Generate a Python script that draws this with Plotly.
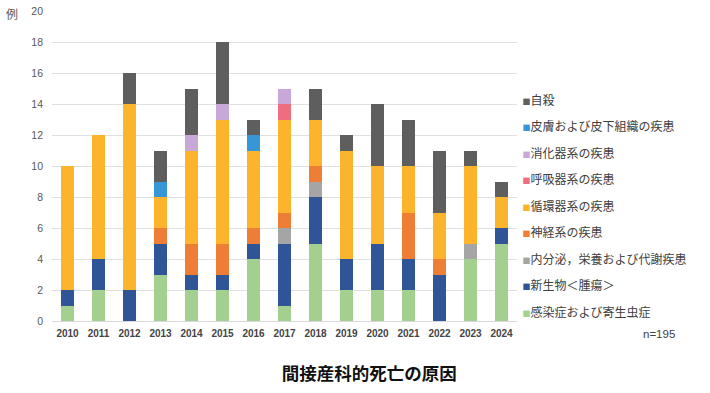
import plotly.graph_objects as go

years = [str(y) for y in range(2010, 2025)]

# Bottom-to-top stacking order
infection   = [1, 2, 0, 3, 2, 2, 4, 1, 5, 2, 2, 2, 0, 4, 5]   # 感染症および寄生虫症
neoplasm    = [1, 2, 2, 2, 1, 1, 1, 4, 3, 2, 3, 2, 3, 0, 1]   # 新生物<腫瘍>
endocrine   = [0, 0, 0, 0, 0, 0, 0, 1, 1, 0, 0, 0, 0, 1, 0]   # 内分泌，栄養および代謝疾患
nervous     = [0, 0, 0, 1, 2, 2, 1, 1, 1, 0, 0, 3, 1, 0, 0]   # 神経系の疾患
circulatory = [8, 8, 12, 2, 6, 8, 5, 6, 3, 7, 5, 3, 3, 5, 2]  # 循環器系の疾患
respiratory = [0, 0, 0, 0, 0, 0, 0, 1, 0, 0, 0, 0, 0, 0, 0]   # 呼吸器系の疾患
digestive   = [0, 0, 0, 0, 1, 1, 0, 1, 0, 0, 0, 0, 0, 0, 0]   # 消化器系の疾患
skin        = [0, 0, 0, 1, 0, 0, 1, 0, 0, 0, 0, 0, 0, 0, 0]   # 皮膚および皮下組織の疾患
suicide     = [0, 0, 2, 2, 3, 4, 1, 0, 2, 1, 4, 3, 4, 1, 1]   # 自殺

series = [
    ("感染症および寄生虫症", infection, "#A3D08F"),
    ("新生物＜腫瘍＞", neoplasm, "#2F5597"),
    ("内分泌，栄養および代謝疾患", endocrine, "#A5A5A5"),
    ("神経系の疾患", nervous, "#EE7D35"),
    ("循環器系の疾患", circulatory, "#FBB42C"),
    ("呼吸器系の疾患", respiratory, "#EE6E80"),
    ("消化器系の疾患", digestive, "#C8A8D8"),
    ("皮膚および皮下組織の疾患", skin, "#3696D6"),
    ("自殺", suicide, "#5E5E5E"),
]

FONT = "Noto Sans CJK JP"

fig = go.Figure()
for name, vals, color in series:
    fig.add_trace(go.Bar(
        x=years, y=vals, marker=dict(color=color, line=dict(width=0)),
        name=name, showlegend=False,
    ))
# legend entries, top to bottom (square glyph in text, invisible symbol)
for i, (name, vals, color) in enumerate(reversed(series)):
    fig.add_trace(go.Scatter(
        x=[None], y=[None], mode="lines", line=dict(width=0, color=color),
        name=f'<span style="color:{color};font-size:8px">■</span>{name}',
        legendgroup=f"g{i}", showlegend=True,
    ))

fig.update_layout(
    width=710, height=393,
    barmode="stack", bargap=0.6,
    paper_bgcolor="white", plot_bgcolor="white",
    margin=dict(l=52, r=193, t=11, b=72, autoexpand=False),
    font=dict(family=FONT, color="#595959"),
    xaxis=dict(
        type="category", showgrid=False, showline=False, zeroline=False,
        ticks="", tickfont=dict(family="Liberation Sans", size=10, weight="bold", color="#444444"),
        ticklabelstandoff=5,
    ),
    yaxis=dict(
        range=[0, 20], dtick=2, showgrid=True, gridcolor="#E0E0E0", gridwidth=1,
        zeroline=True, zerolinecolor="#D9D9D9", zerolinewidth=1,
        showline=False, ticks="", tickfont=dict(family="Liberation Sans", size=10.5, color="#595959"),
        ticklabelstandoff=8,
    ),
    legend=dict(
        x=0.926, y=0.76, xanchor="left", yanchor="top",
        traceorder="grouped", tracegroupgap=7.5,
        font=dict(family=FONT, size=12, color="#404040"),
        bgcolor="rgba(0,0,0,0)", itemwidth=30,
    ),
    title=dict(
        text="<b>間接産科的死亡の原因</b>", x=0.52, xanchor="center",
        y=0.048, yref="container", yanchor="middle",
        font=dict(family=FONT, size=17.5, color="#111111"),
    ),
    annotations=[
        dict(text="例", x=-0.086, y=0.993, xref="paper", yref="paper",
             xanchor="center", yanchor="middle",
             showarrow=False, font=dict(family=FONT, size=12, color="#595959")),
        dict(text="n=195", x=1.344, y=-0.042, xref="paper", yref="paper",
             xanchor="right", yanchor="middle",
             showarrow=False, font=dict(family="Liberation Sans", size=11.5, color="#404040")),
    ],
)

fig.write_html("out.html", config={"displayModeBar": False},
               post_script="document.body.style.margin='0';")
